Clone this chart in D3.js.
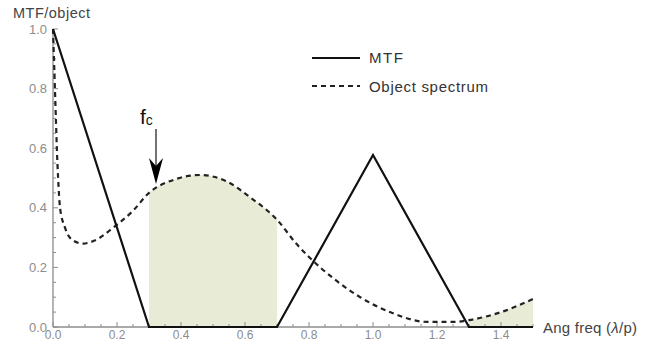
<!DOCTYPE html>
<html>
<head>
<meta charset="utf-8">
<script src="https://cdn.jsdelivr.net/npm/d3@7"></script>
<style>
  body { margin: 0; background: #fff; }
  svg { display: block; font-family: "Liberation Sans", Arial, sans-serif; }
</style>
</head>
<body>
<svg id="chart" width="654" height="343"></svg>
<script>
// MTF (piecewise linear)
const mtfX = [0, 0.3, 0.7, 1.0, 1.3, 1.5];
const mtfY = [1.0, 0, 0, 0.577, 0, 0];

// object spectrum
const objX = [0, 0.003, 0.006, 0.009, 0.012, 0.016, 0.022, 0.037, 0.063, 0.094, 0.13, 0.19, 0.25, 0.30, 0.38, 0.46, 0.54, 0.615, 0.70, 0.76, 0.80, 0.88, 0.96, 1.06, 1.17, 1.25, 1.30, 1.40, 1.5];
const objY = [1.0, 0.9, 0.8, 0.7, 0.6, 0.5, 0.40, 0.335, 0.29, 0.28, 0.29, 0.335, 0.39, 0.45, 0.495, 0.51, 0.49, 0.436, 0.36, 0.28, 0.235, 0.16, 0.10, 0.047, 0.017, 0.017, 0.023, 0.05, 0.094];

// shaded bands (x ranges)
const bands = [[0.3, 0.7], [1.3, 1.5]];

const xTicks = [0, 0.2, 0.4, 0.6, 0.8, 1.0, 1.2, 1.4];
const yTicks = [0, 0.2, 0.4, 0.6, 0.8, 1.0];

const svg = d3.select('#chart');
const x = d3.scaleLinear().domain([0, 1.5]).range([53, 533]);
const y = d3.scaleLinear().domain([0, 1]).range([327, 29]);

const mtf = mtfX.map((d, i) => [d, mtfY[i]]);
const obj = objX.map((d, i) => [d, objY[i]]);

// shaded areas under the spectrum
const defs = svg.append('defs');
bands.forEach((b, i) => {
    defs.append('clipPath').attr('id', 'band' + i)
        .append('rect')
        .attr('x', x(b[0])).attr('y', 0)
        .attr('width', x(b[1]) - x(b[0])).attr('height', y(0));
});
const area = d3.area().x(d => x(d[0])).y0(y(0)).y1(d => y(d[1])).curve(d3.curveMonotoneX);
bands.forEach((b, i) => {
    svg.append('path').datum(obj)
        .attr('clip-path', `url(#band${i})`)
        .attr('d', area)
        .attr('fill', '#e8ecd6');
});

// axes
const grey = '#8c8c8c';
const minor = d3.range(0, 1.5001, 0.05);
const yMinor = d3.range(0, 1.0001, 0.05);

svg.append('line').attr('x1', x(0)).attr('x2', x(1.5)).attr('y1', y(0)).attr('y2', y(0))
    .attr('stroke', grey).attr('stroke-width', 1.3);
svg.append('line').attr('x1', x(0)).attr('x2', x(0)).attr('y1', y(0)).attr('y2', y(1))
    .attr('stroke', grey).attr('stroke-width', 1.3);

svg.append('g').selectAll('line').data(minor).join('line')
    .attr('x1', d => x(d)).attr('x2', d => x(d))
    .attr('y1', y(0))
    .attr('y2', (d, i) => y(0) - (i % 4 === 0 ? 5 : 3))
    .attr('stroke', grey).attr('stroke-width', 1);
svg.append('g').selectAll('line').data(yMinor).join('line')
    .attr('y1', d => y(d)).attr('y2', d => y(d))
    .attr('x1', x(0))
    .attr('x2', (d, i) => x(0) + (i % 4 === 0 ? 5 : 3))
    .attr('stroke', grey).attr('stroke-width', 1);

svg.append('g').selectAll('text').data(xTicks).join('text')
    .attr('x', d => x(d)).attr('y', 339)
    .attr('text-anchor', 'middle')
    .attr('font-size', 12).attr('fill', grey)
    .text(d => d.toFixed(1));
svg.append('g').selectAll('text').data(yTicks).join('text')
    .attr('x', 47).attr('y', d => y(d) + 4.5)
    .attr('text-anchor', 'end')
    .attr('font-size', 13).attr('fill', grey)
    .text(d => d.toFixed(1));

svg.append('text').attr('x', 13).attr('y', 18)
    .attr('font-size', 14.5).attr('fill', '#444')
    .attr('textLength', 77)
    .text('MTF/object');
const xl = svg.append('text').attr('x', 543).attr('y', 333)
    .attr('font-size', 15).attr('fill', '#444')
    .attr('textLength', 94);
xl.append('tspan').text('Ang freq (');
xl.append('tspan').attr('font-style', 'italic').text('λ');
xl.append('tspan').text('/p)');

// curves
const line = d3.line().x(d => x(d[0])).y(d => y(d[1]));
svg.append('path').datum(obj)
    .attr('d', line.curve(d3.curveMonotoneX))
    .attr('fill', 'none').attr('stroke', '#222')
    .attr('stroke-width', 2.2).attr('stroke-dasharray', '5,4');
svg.append('path').datum(mtf)
    .attr('d', d3.line().x(d => x(d[0])).y(d => y(d[1])))
    .attr('fill', 'none').attr('stroke', '#111')
    .attr('stroke-width', 2.2).attr('stroke-linejoin', 'miter');

// legend
const lg = svg.append('g');
lg.append('line').attr('x1', 312).attr('x2', 360).attr('y1', 58).attr('y2', 58)
    .attr('stroke', '#111').attr('stroke-width', 2.2);
lg.append('line').attr('x1', 312).attr('x2', 360).attr('y1', 86).attr('y2', 86)
    .attr('stroke', '#222').attr('stroke-width', 2.2).attr('stroke-dasharray', '5,4');
lg.append('text').attr('x', 369).attr('y', 63).attr('font-size', 15).attr('fill', '#333')
    .attr('textLength', 34).text('MTF');
lg.append('text').attr('x', 369).attr('y', 92).attr('font-size', 15).attr('fill', '#333')
    .attr('textLength', 119).text('Object spectrum');

// f_c annotation with arrow
const fc = svg.append('text').attr('x', 140).attr('y', 124)
    .attr('font-size', 21).attr('fill', '#111');
fc.append('tspan').text('f');
fc.append('tspan').attr('font-size', 14).attr('dy', 1).text('c');
const ax = 156;
svg.append('line').attr('x1', ax).attr('x2', ax).attr('y1', 129).attr('y2', 168)
    .attr('stroke', '#444').attr('stroke-width', 1.5);
svg.append('path')
    .attr('d', `M${ax},184 L${ax - 7},158 L${ax},166 L${ax + 7},158 Z`)
    .attr('fill', '#000');
</script>
</body>
</html>
